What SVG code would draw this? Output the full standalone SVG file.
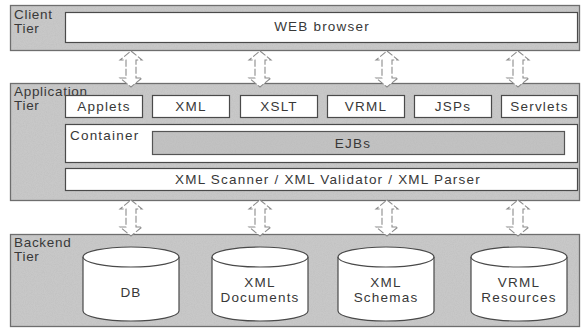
<svg xmlns="http://www.w3.org/2000/svg" width="581" height="329" viewBox="0 0 581 329">
  <style>
    .tier { fill: #c8c8c8; stroke: #6e6e6e; stroke-width: 1.3; }
    .box { fill: #ffffff; stroke: #4a4a4a; stroke-width: 1.2; }
    .shade { fill: #c2c2c2; stroke: #555555; stroke-width: 1.2; }
    .cyl { fill: #ffffff; stroke: #4a4a4a; stroke-width: 1.2; }
    .lbl { font-family: "Liberation Sans", Arial, sans-serif; font-size: 13.5px; letter-spacing: 1.2px; fill: #383838; }
    .side { letter-spacing: 0.7px; }
    .mid { text-anchor: middle; }
    .arrow { fill: #ffffff; stroke: #8c8c8c; stroke-width: 1.1; stroke-dasharray: 7 2; }
  </style>
  <defs>
    <!-- fine grain for the tier panels -->
    <filter id="grain" x="0" y="0" width="100%" height="100%">
      <feTurbulence type="fractalNoise" baseFrequency="0.9" numOctaves="2" seed="4" result="n"/>
      <feColorMatrix in="n" type="matrix" values="0 0 0 0 0.45  0 0 0 0 0.45  0 0 0 0 0.45  0 0 0 0.55 -0.18"/>
      <feComposite in2="SourceGraphic" operator="in"/>
    </filter>
    <!-- hollow double-headed arrow, 36 tall, centred on x=0 -->
    <path id="dbl" d="M0,0 L11,9 L5,9 L5,27 L11,27 L0,36 L-11,27 L-5,27 L-5,9 L-11,9 Z"/>
    <!-- database cylinder, 96 wide, 74 tall, centred on x=0 -->
    <g id="drum">
      <path class="cyl" d="M-48,10 L-48,64 A48,10 0 0 0 48,64 L48,10 A48,10 0 0 0 -48,10 Z"/>
      <path class="cyl" fill="none" d="M-48,10 A48,10 0 0 0 48,10"/>
    </g>
  </defs>

  <rect width="581" height="329" fill="#ffffff"/>

  <!-- Client tier -->
  <g id="client-tier">
    <rect class="tier" x="10.5" y="5.5" width="569" height="45"/>
    <rect x="11" y="6" width="568" height="44" fill="#c8c8c8" filter="url(#grain)"/>
    <text class="lbl side" x="14" y="19">Client</text>
    <text class="lbl side" x="14" y="33">Tier</text>
  </g>
  <g id="web-browser">
    <rect class="box" x="65.5" y="12.5" width="512" height="30"/>
    <text class="lbl mid" x="322" y="31">WEB browser</text>
  </g>

  <!-- Application tier -->
  <g id="application-tier">
    <rect class="tier" x="10.5" y="83.5" width="569" height="117"/>
    <rect x="11" y="84" width="568" height="116" fill="#c8c8c8" filter="url(#grain)"/>
    <text class="lbl side" x="14" y="96">Application</text>
    <text class="lbl side" x="14" y="110">Tier</text>
  </g>
  <g id="applets">
    <rect class="box" x="65.5" y="95.5" width="77" height="22"/>
    <text class="lbl mid" x="104" y="111">Applets</text>
  </g>
  <g id="xml">
    <rect class="box" x="152.5" y="95.5" width="77" height="22"/>
    <text class="lbl mid" x="191" y="111">XML</text>
  </g>
  <g id="xslt">
    <rect class="box" x="240.5" y="95.5" width="77" height="22"/>
    <text class="lbl mid" x="279" y="111">XSLT</text>
  </g>
  <g id="vrml">
    <rect class="box" x="327.5" y="95.5" width="77" height="22"/>
    <text class="lbl mid" x="366" y="111">VRML</text>
  </g>
  <g id="jsps">
    <rect class="box" x="414.5" y="95.5" width="77" height="22"/>
    <text class="lbl mid" x="453" y="111">JSPs</text>
  </g>
  <g id="servlets">
    <rect class="box" x="501.5" y="95.5" width="76" height="22"/>
    <text class="lbl mid" x="539.5" y="111">Servlets</text>
  </g>
  <g id="container">
    <rect class="box" x="65.5" y="124.5" width="512" height="38"/>
    <text class="lbl" x="70" y="140">Container</text>
  </g>
  <g id="ejbs">
    <rect class="shade" x="152.5" y="131.5" width="412" height="23"/>
    <rect x="153" y="132" width="411" height="22" fill="#c2c2c2" filter="url(#grain)"/>
    <text class="lbl mid" x="353" y="148">EJBs</text>
  </g>
  <g id="xml-processing">
    <rect class="box" x="65.5" y="168.5" width="512" height="22"/>
    <text class="lbl mid" x="328" y="184">XML Scanner / XML Validator / XML Parser</text>
  </g>

  <!-- Backend tier -->
  <g id="backend-tier">
    <rect class="tier" x="10.5" y="234.5" width="569" height="92"/>
    <rect x="11" y="235" width="568" height="91" fill="#c8c8c8" filter="url(#grain)"/>
    <text class="lbl side" x="14" y="247">Backend</text>
    <text class="lbl side" x="14" y="261">Tier</text>
  </g>
  <g id="db">
    <use href="#drum" x="131" y="247"/>
    <text class="lbl mid" x="131" y="297">DB</text>
  </g>
  <g id="xml-documents">
    <use href="#drum" x="260" y="247"/>
    <text class="lbl mid" x="260" y="287">XML</text>
    <text class="lbl mid" x="260" y="302">Documents</text>
  </g>
  <g id="xml-schemas">
    <use href="#drum" x="386" y="247"/>
    <text class="lbl mid" x="386" y="287">XML</text>
    <text class="lbl mid" x="386" y="302">Schemas</text>
  </g>
  <g id="vrml-resources">
    <use href="#drum" x="519" y="247"/>
    <text class="lbl mid" x="519" y="287">VRML</text>
    <text class="lbl mid" x="519" y="302">Resources</text>
  </g>

  <!-- connectors between tiers -->
  <g id="connectors" class="arrow">
    <use href="#dbl" x="131" y="51"/>
    <use href="#dbl" x="260" y="51"/>
    <use href="#dbl" x="387" y="51"/>
    <use href="#dbl" x="518" y="51"/>
    <use href="#dbl" x="131" y="200"/>
    <use href="#dbl" x="260" y="200"/>
    <use href="#dbl" x="387" y="200"/>
    <use href="#dbl" x="518" y="200"/>
  </g>
</svg>
